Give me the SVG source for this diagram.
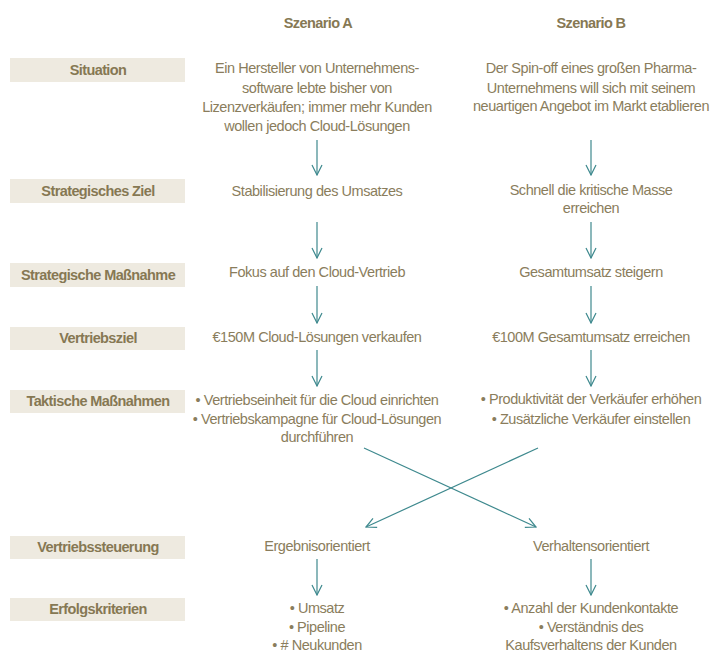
<svg xmlns="http://www.w3.org/2000/svg" width="710" height="652" viewBox="0 0 710 652">
<defs>
<style>
.lbl rect{fill:#EEEAE0}
.lbl text{font-family:"Liberation Sans",Arial,sans-serif;font-weight:bold;font-size:14.5px;fill:#867853;text-anchor:middle;letter-spacing:-0.6px}
.hd{font-family:"Liberation Sans",Arial,sans-serif;font-weight:bold;font-size:14.5px;fill:#867853;text-anchor:middle;letter-spacing:-0.6px}
.t{font-family:"Liberation Sans",Arial,sans-serif;font-size:14.5px;fill:#8A7D5C;text-anchor:middle;letter-spacing:-0.45px}
.c line{stroke:#3E898E;stroke-width:1.2;fill:none}
</style>
<marker id="ah" viewBox="0 0 12 12" refX="11" refY="6" markerWidth="12" markerHeight="12" markerUnits="userSpaceOnUse" orient="auto">
<polyline points="1,1 11,6 1,11" fill="none" stroke="#3E898E" stroke-width="1.2"/>
</marker>
</defs>
<rect width="710" height="652" fill="#FFFFFF"/>
<text class="hd" x="318" y="28">Szenario A</text>
<text class="hd" x="591" y="28">Szenario B</text>

<g id="lbl-situation" class="lbl"><rect x="10" y="58" width="175" height="24"/><text x="98" y="75">Situation</text></g>
<g id="lbl-ziel" class="lbl"><rect x="10" y="179" width="175" height="24"/><text x="98" y="196">Strategisches Ziel</text></g>
<g id="lbl-massnahme" class="lbl"><rect x="10" y="263" width="175" height="24"/><text x="98" y="280">Strategische Maßnahme</text></g>
<g id="lbl-vertriebsziel" class="lbl"><rect x="10" y="327" width="175" height="23"/><text x="98" y="343">Vertriebsziel</text></g>
<g id="lbl-taktisch" class="lbl"><rect x="10" y="390" width="175" height="23"/><text x="98" y="406">Taktische Maßnahmen</text></g>
<g id="lbl-steuerung" class="lbl"><rect x="10" y="536" width="175" height="23"/><text x="98" y="552">Vertriebssteuerung</text></g>
<g id="lbl-erfolg" class="lbl"><rect x="10" y="598" width="175" height="23"/><text x="98" y="614">Erfolgskriterien</text></g>

<g id="a-situation"><text class="t" x="317" y="73">Ein Hersteller von Unternehmens-</text><text class="t" x="317" y="93">software lebte bisher von</text><text class="t" x="317" y="112">Lizenzverkäufen; immer mehr Kunden</text><text class="t" x="317" y="131">wollen jedoch Cloud-Lösungen</text></g>
<g id="b-situation"><text class="t" x="591" y="73">Der Spin-off eines großen Pharma-</text><text class="t" x="591" y="93">Unternehmens will sich mit seinem</text><text class="t" x="591" y="111">neuartigen Angebot im Markt etablieren</text></g>
<g id="a-ziel"><text class="t" x="317" y="196">Stabilisierung des Umsatzes</text></g>
<g id="b-ziel"><text class="t" x="591" y="195">Schnell die kritische Masse</text><text class="t" x="591" y="213">erreichen</text></g>
<g id="a-massnahme"><text class="t" x="317" y="277">Fokus auf den Cloud-Vertrieb</text></g>
<g id="b-massnahme"><text class="t" x="591" y="277">Gesamtumsatz steigern</text></g>
<g id="a-vertriebsziel"><text class="t" x="317" y="342">€150M Cloud-Lösungen verkaufen</text></g>
<g id="b-vertriebsziel"><text class="t" x="591" y="342">€100M Gesamtumsatz erreichen</text></g>
<g id="a-taktisch"><text class="t" x="317" y="405">• Vertriebseinheit für die Cloud einrichten</text><text class="t" x="317" y="424">• Vertriebskampagne für Cloud-Lösungen</text><text class="t" x="317" y="442">durchführen</text></g>
<g id="b-taktisch"><text class="t" x="591" y="404">• Produktivität der Verkäufer erhöhen</text><text class="t" x="591" y="424">• Zusätzliche Verkäufer einstellen</text></g>
<g id="a-steuerung"><text class="t" x="317" y="551">Ergebnisorientiert</text></g>
<g id="b-steuerung"><text class="t" x="591" y="551">Verhaltensorientiert</text></g>
<g id="a-erfolg"><text class="t" x="317" y="613">• Umsatz</text><text class="t" x="317" y="632">• Pipeline</text><text class="t" x="317" y="650">• # Neukunden</text></g>
<g id="b-erfolg"><text class="t" x="591" y="613">• Anzahl der Kundenkontakte</text><text class="t" x="591" y="632">• Verständnis des</text><text class="t" x="591" y="650">Kaufsverhaltens der Kunden</text></g>

<g id="connectors" class="c">
<line x1="317" y1="140" x2="317" y2="175" marker-end="url(#ah)"/>
<line x1="591" y1="140" x2="591" y2="175" marker-end="url(#ah)"/>
<line x1="317" y1="222" x2="317" y2="258" marker-end="url(#ah)"/>
<line x1="591" y1="222" x2="591" y2="258" marker-end="url(#ah)"/>
<line x1="317" y1="286" x2="317" y2="323" marker-end="url(#ah)"/>
<line x1="591" y1="286" x2="591" y2="323" marker-end="url(#ah)"/>
<line x1="317" y1="350" x2="317" y2="386" marker-end="url(#ah)"/>
<line x1="591" y1="350" x2="591" y2="386" marker-end="url(#ah)"/>
<line x1="364" y1="448" x2="536" y2="527" marker-end="url(#ah)"/>
<line x1="538" y1="448" x2="366" y2="527" marker-end="url(#ah)"/>
<line x1="317" y1="559" x2="317" y2="595" marker-end="url(#ah)"/>
<line x1="591" y1="559" x2="591" y2="595" marker-end="url(#ah)"/>
</g>
</svg>
